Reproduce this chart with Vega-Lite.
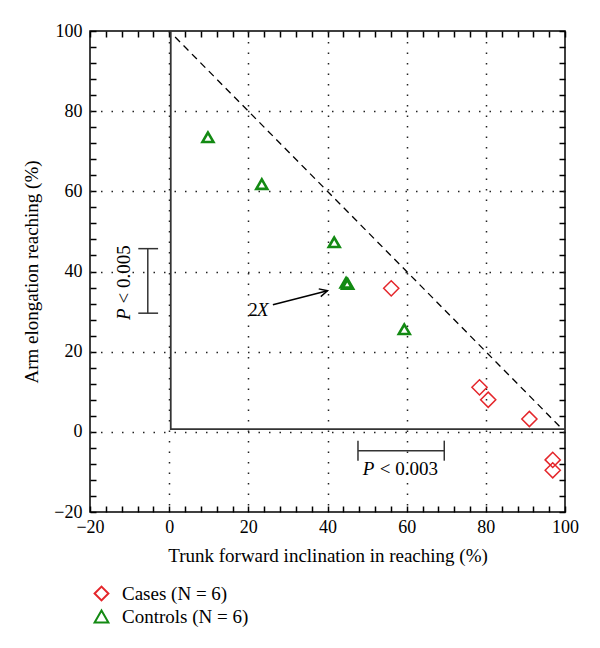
{
  "$schema": "https://vega.github.io/schema/vega-lite/v6.json",
  "width": 475,
  "height": 481,
  "autosize": "none",
  "padding": {"left": 90, "top": 31, "right": 35, "bottom": 136},
  "background": "white",
  "config": {
    "font": "Liberation Serif",
    "view": {"stroke": "black", "strokeWidth": 1.5},
    "axis": {"labelFont": "Liberation Serif", "titleFont": "Liberation Serif", "labelColor": "black", "titleColor": "black", "titleFontWeight": "normal"}
  },
  "datasets": {
    "points": [
      {"group": "Cases", "x": 56.1, "y": 35.8},
      {"group": "Cases", "x": 78.4, "y": 11.1},
      {"group": "Cases", "x": 80.6, "y": 8.0},
      {"group": "Cases", "x": 91.0, "y": 3.2},
      {"group": "Cases", "x": 96.9, "y": -7.0},
      {"group": "Cases", "x": 96.9, "y": -9.6},
      {"group": "Controls", "x": 9.8, "y": 73.5},
      {"group": "Controls", "x": 23.4, "y": 61.8},
      {"group": "Controls", "x": 41.7, "y": 47.3},
      {"group": "Controls", "x": 44.7, "y": 37.2},
      {"group": "Controls", "x": 45.1, "y": 36.9},
      {"group": "Controls", "x": 59.4, "y": 25.6}
    ],
    "diag": [{"x": 1.5, "y": 98.5}, {"x": 99.5, "y": 0.5}],
    "frame": [{"x": 0.4, "y": 100, "o": 1}, {"x": 0.4, "y": 0.7, "o": 2}, {"x": 100, "y": 0.7, "o": 3}],
    "bars": [
      {"x": -5.4, "y": 29.6, "x2": -5.4, "y2": 45.7},
      {"x": -7.8, "y": 45.7, "x2": -2.8, "y2": 45.7},
      {"x": -7.8, "y": 29.6, "x2": -2.8, "y2": 29.6},
      {"x": 47.7, "y": -4.7, "x2": 69.5, "y2": -4.7},
      {"x": 47.7, "y": -2.2, "x2": 47.7, "y2": -7.2},
      {"x": 69.5, "y": -2.2, "x2": 69.5, "y2": -7.2}
    ],
    "arrow": [{"x": 26.2, "y": 31.7, "x2": 40.0, "y2": 35.2}],
    "tip": [{"x": 40.0, "y": 35.2}],
    "textRegular": [{"label": "< 0.003", "x": 53.2, "y": -10.7}, {"label": "2", "x": 20.0, "y": 28.8}],
    "textItalic": [{"label": "P", "x": 48.9, "y": -10.7}, {"label": "X", "x": 22.2, "y": 28.8}],
    "rotRegular": [{"label": "< 0.005", "x": -9.8, "y": 32.0}],
    "rotItalic": [{"label": "P", "x": -9.8, "y": 27.9}]
  },
  "layer": [
    {
      "data": {"name": "frame"},
      "mark": {"type": "line", "color": "#333", "strokeWidth": 1.8},
      "encoding": {
        "x": {"field": "x", "type": "quantitative", "scale": {"domain": [-20, 100], "nice": false, "zero": false},
          "axis": {"orient": "bottom", "values": [-20,-16,-12,-8,-4,0,4,8,12,16,20,24,28,32,36,40,44,48,52,56,60,64,68,72,76,80,84,88,92,96,100],
            "labelExpr": "datum.value % 20 == 0 ? datum.label : ''", "labelFlush": false, "labelOverlap": false, "labelFontSize": 18, "labelPadding": 6,
            "ticks": false, "tickSize": 0, "domain": false,
            "grid": true, "gridDash": [6, 2000], "gridColor": "black", "gridWidth": 1.5,
            "title": "Trunk forward inclination in reaching (%)", "titleFontSize": 19, "titlePadding": 10}},
        "y": {"field": "y", "type": "quantitative", "scale": {"domain": [-20, 100], "nice": false, "zero": false},
          "axis": {"orient": "left", "values": [-20,-16,-12,-8,-4,0,4,8,12,16,20,24,28,32,36,40,44,48,52,56,60,64,68,72,76,80,84,88,92,96,100],
            "labelExpr": "datum.value % 20 == 0 ? datum.label : ''", "labelFlush": false, "labelOverlap": false, "labelFontSize": 18, "labelPadding": 8,
            "ticks": false, "tickSize": 0, "domain": false,
            "grid": true, "gridDash": [6, 2000], "gridColor": "black", "gridWidth": 1.5,
            "title": "Arm elongation reaching (%)", "titleFontSize": 19, "titlePadding": 12}},
        "order": {"field": "o", "type": "quantitative"}
      }
    },
    {
      "data": {"name": "bars"},
      "mark": {"type": "rule", "color": "#333", "strokeWidth": 1.5},
      "encoding": {
        "x": {"field": "x", "type": "quantitative",
          "axis": {"orient": "top", "values": [-20,-16,-12,-8,-4,0,4,8,12,16,20,24,28,32,36,40,44,48,52,56,60,64,68,72,76,80,84,88,92,96,100],
            "labels": false, "ticks": false, "tickSize": 0, "domain": false,
            "grid": true, "gridDash": [6, 2000], "gridColor": "black", "gridWidth": 1.5, "title": null}},
        "y": {"field": "y", "type": "quantitative",
          "axis": {"orient": "right", "values": [-20,-16,-12,-8,-4,0,4,8,12,16,20,24,28,32,36,40,44,48,52,56,60,64,68,72,76,80,84,88,92,96,100],
            "labels": false, "ticks": false, "tickSize": 0, "domain": false,
            "grid": true, "gridDash": [6, 2000], "gridColor": "black", "gridWidth": 1.5, "title": null}},
        "x2": {"field": "x2"},
        "y2": {"field": "y2"}
      }
    },
    {
      "data": {"name": "diag"},
      "mark": {"type": "line", "color": "black", "strokeDash": [7, 5], "strokeWidth": 1.3},
      "encoding": {
        "x": {"field": "x", "type": "quantitative",
          "axis": {"orient": "bottom", "values": [0, 20, 40, 60, 80], "grid": true, "gridDash": [1.5, 9], "gridColor": "#222", "gridWidth": 1.5, "domain": false, "ticks": false, "labels": false, "title": null}},
        "y": {"field": "y", "type": "quantitative",
          "axis": {"orient": "left", "values": [0, 20, 40, 60, 80], "grid": true, "gridDash": [1.5, 9], "gridColor": "#222", "gridWidth": 1.5, "domain": false, "ticks": false, "labels": false, "title": null}}
      }
    },
    {
      "data": {"name": "arrow"},
      "mark": {"type": "rule", "color": "black", "strokeWidth": 1.5},
      "encoding": {
        "x": {"field": "x", "type": "quantitative", "axis": null},
        "y": {"field": "y", "type": "quantitative", "axis": null},
        "x2": {"field": "x2"},
        "y2": {"field": "y2"}
      }
    },
    {
      "data": {"name": "tip"},
      "mark": {"type": "point", "shape": "M -1 -0.5 L 0 0 L -1 0.5", "size": 256, "angle": 345.4, "filled": false, "stroke": "black", "strokeWidth": 1.5, "opacity": 1},
      "encoding": {
        "x": {"field": "x", "type": "quantitative", "axis": null},
        "y": {"field": "y", "type": "quantitative", "axis": null}
      }
    },
    {
      "data": {"name": "points"},
      "transform": [{"filter": "datum.group == 'Cases'"}],
      "mark": {"type": "point", "filled": false, "opacity": 1, "size": 230, "strokeWidth": 1.5},
      "encoding": {
        "x": {"field": "x", "type": "quantitative", "axis": null},
        "y": {"field": "y", "type": "quantitative", "axis": null},
        "shape": {"field": "group", "type": "nominal", "scale": {"domain": ["Cases", "Controls"], "range": ["diamond", "triangle-up"]},
          "legend": {"orient": "none", "legendX": 2, "legendY": 553, "title": null, "labelFont": "Liberation Serif", "labelFontSize": 19, "labelColor": "black", "labelExpr": "datum.label + ' (N = 6)'", "labelOffset": 11, "rowPadding": 1, "padding": 0, "symbolSize": 190, "symbolStrokeWidth": 2}},
        "stroke": {"field": "group", "type": "nominal", "scale": {"domain": ["Cases", "Controls"], "range": ["#e4262b", "#138a13"]}}
      }
    },
    {
      "data": {"name": "points"},
      "transform": [{"filter": "datum.group == 'Controls'"}],
      "mark": {"type": "point", "filled": false, "opacity": 1, "size": 120, "strokeWidth": 2.6},
      "encoding": {
        "x": {"field": "x", "type": "quantitative", "axis": null},
        "y": {"field": "y", "type": "quantitative", "axis": null},
        "shape": {"field": "group", "type": "nominal"},
        "stroke": {"field": "group", "type": "nominal"}
      }
    },
    {
      "data": {"name": "textRegular"},
      "mark": {"type": "text", "font": "Liberation Serif", "fontSize": 19, "align": "left", "baseline": "alphabetic", "color": "black"},
      "encoding": {
        "x": {"field": "x", "type": "quantitative", "axis": null},
        "y": {"field": "y", "type": "quantitative", "axis": null},
        "text": {"field": "label"}
      }
    },
    {
      "data": {"name": "textItalic"},
      "mark": {"type": "text", "font": "Liberation Serif", "fontStyle": "italic", "fontSize": 19, "align": "left", "baseline": "alphabetic", "color": "black"},
      "encoding": {
        "x": {"field": "x", "type": "quantitative", "axis": null},
        "y": {"field": "y", "type": "quantitative", "axis": null},
        "text": {"field": "label"}
      }
    },
    {
      "data": {"name": "rotRegular"},
      "mark": {"type": "text", "font": "Liberation Serif", "fontSize": 19, "align": "left", "baseline": "alphabetic", "angle": 270, "color": "black"},
      "encoding": {
        "x": {"field": "x", "type": "quantitative", "axis": null},
        "y": {"field": "y", "type": "quantitative", "axis": null},
        "text": {"field": "label"}
      }
    },
    {
      "data": {"name": "rotItalic"},
      "mark": {"type": "text", "font": "Liberation Serif", "fontStyle": "italic", "fontSize": 19, "align": "left", "baseline": "alphabetic", "angle": 270, "color": "black"},
      "encoding": {
        "x": {"field": "x", "type": "quantitative", "axis": null},
        "y": {"field": "y", "type": "quantitative", "axis": null},
        "text": {"field": "label"}
      }
    }
  ],
  "resolve": {"axis": {"x": "independent", "y": "independent"}}
}
